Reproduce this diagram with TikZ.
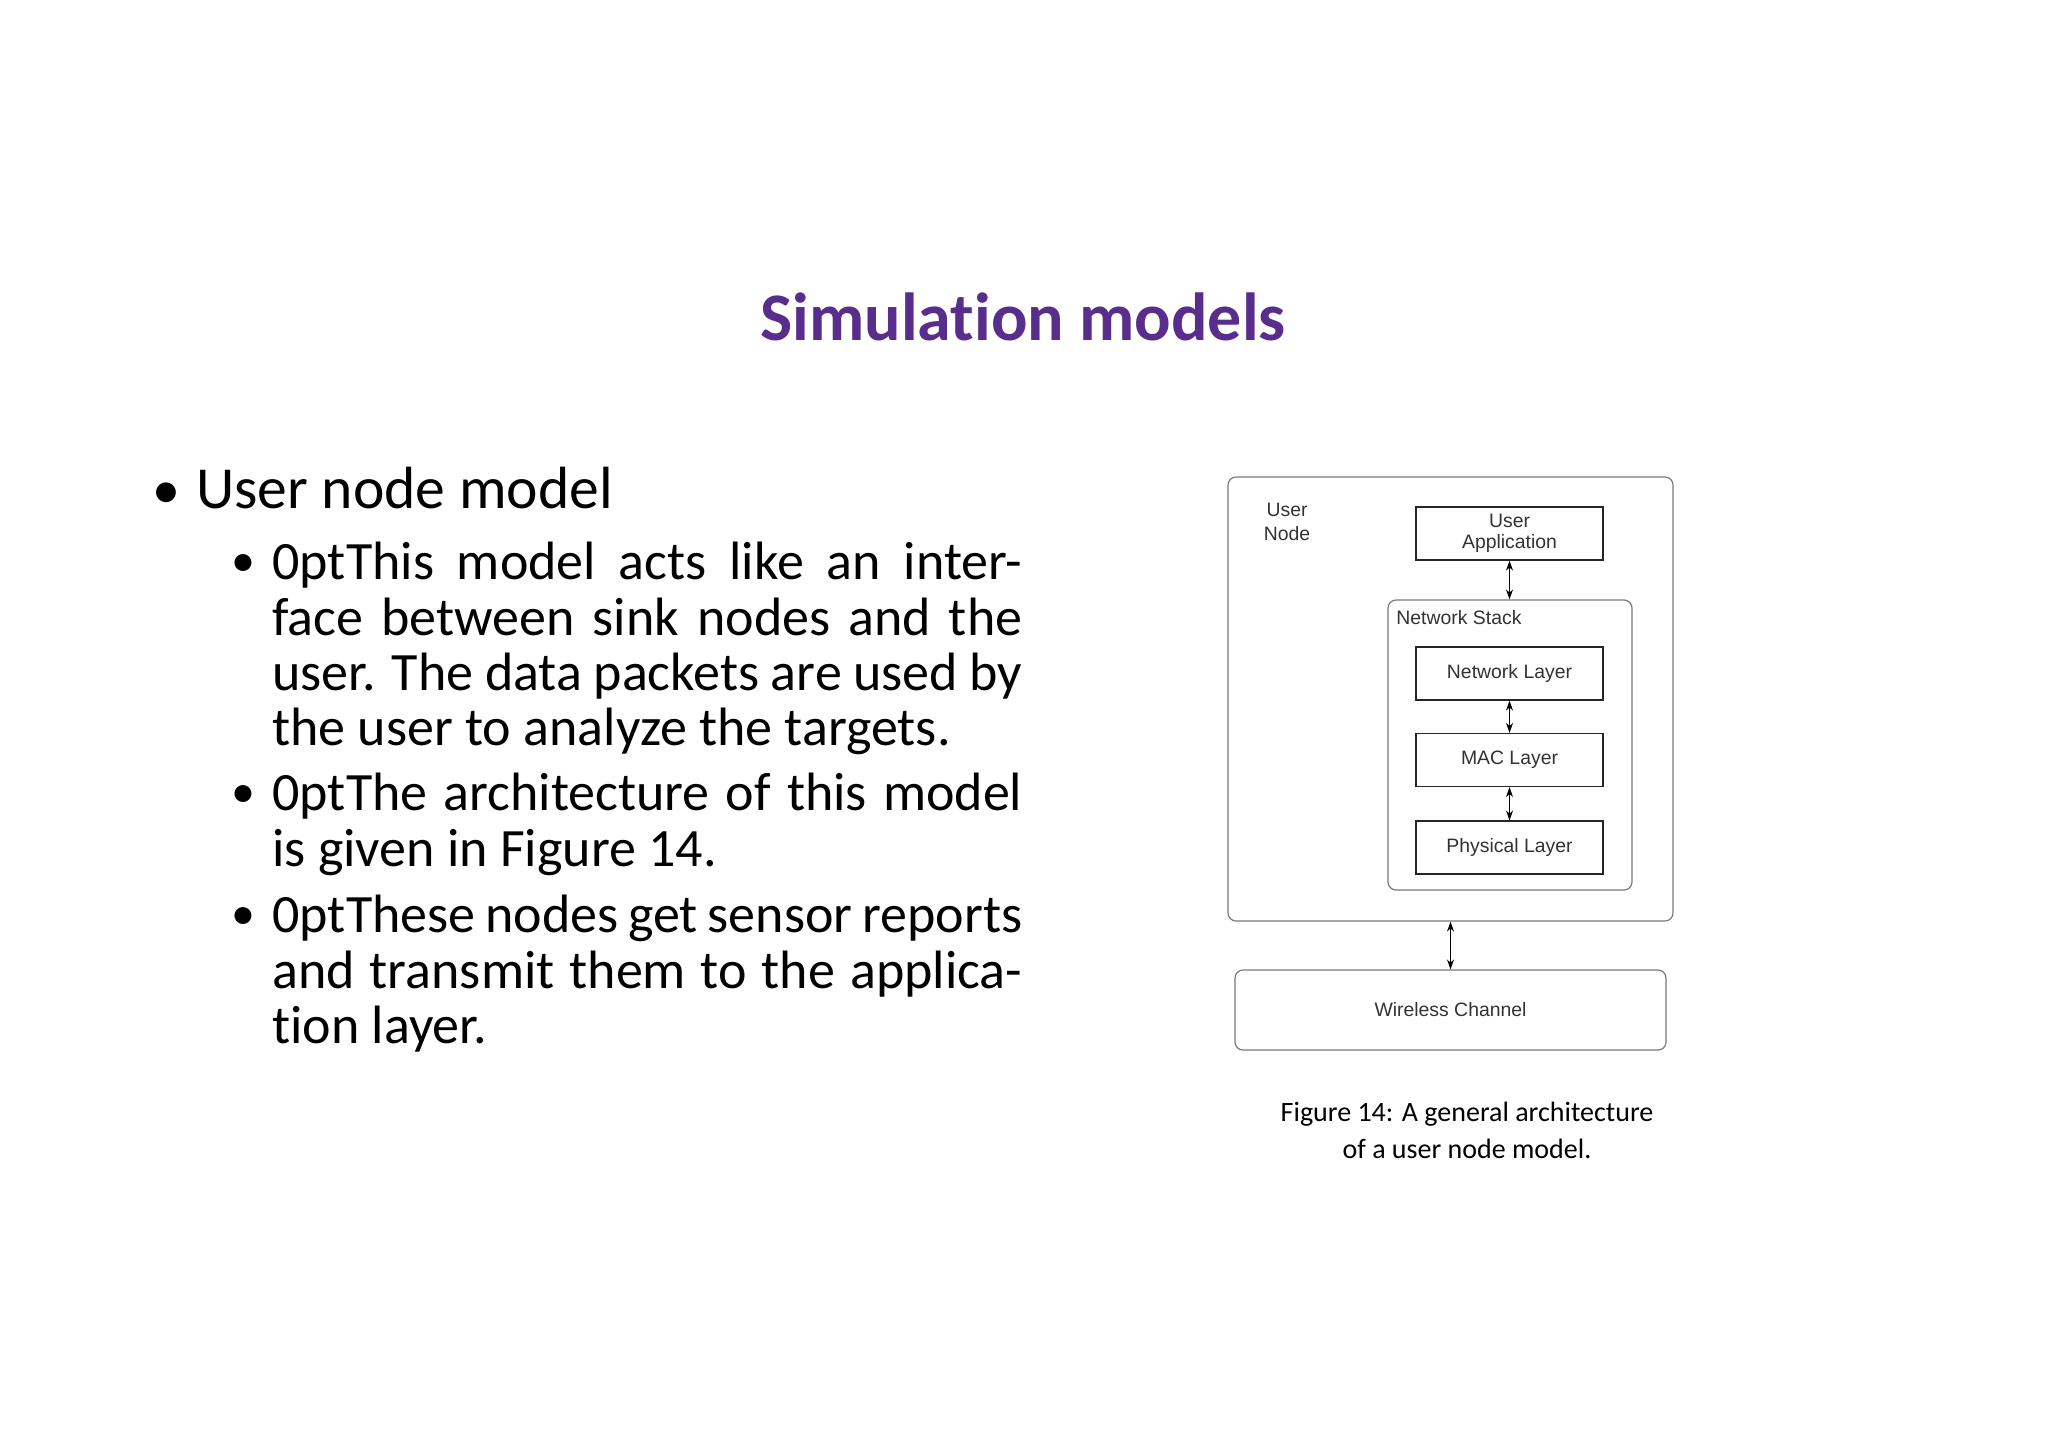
\documentclass[tikz,border=0pt]{standalone}
\usepackage{fontspec}
\setmainfont[Ligatures=NoCommon]{Carlito}
\newfontfamily\diagfont{Liberation Sans}
\usetikzlibrary{arrows.meta}
\definecolor{titlepurple}{RGB}{88,45,140}
\definecolor{boxgray}{RGB}{120,120,120}
\definecolor{dtext}{RGB}{50,50,50}
\begin{document}
\begin{tikzpicture}[x=0.5pt,y=-0.5pt,
  sq/.style={draw=black!85,line width=0.6pt,font=\diagfont\fontsize{9.7}{10.5}\selectfont,text=dtext,minimum width=93.5pt,minimum height=26.5pt,inner sep=0pt,align=center},
  rbox/.style={draw=boxgray,line width=0.6pt,rounded corners=4pt,inner sep=0pt},
  dar/.style={{Stealth[length=5pt,width=3.5pt]}-{Stealth[length=5pt,width=3.5pt]},line width=0.6pt},
  bodytxt/.style={anchor=north west,inner sep=0pt,text width=375pt,align=justify,font=\fontsize{27}{27.6}\selectfont\hyphenpenalty=10000 },
  bul/.style={anchor=base,inner sep=0pt,font=\fontsize{24}{27}\selectfont}]
\useasboundingbox (0,0) rectangle (2048,1447);
\node[font=\bfseries\fontsize{34}{38}\selectfont,text=titlepurple] (title) at (1023,317) {Simulation models};
\node[anchor=base west,inner sep=0pt,font=\fontsize{29.8}{32}\selectfont] (b1) at (196,508) {User node model};
\node[bul,font=\fontsize{28}{30}\selectfont] (bul0) at (166,508) {\textbullet};
\node[bodytxt] (p1) at (272,542) {This model acts like an interface between sink nodes and the user. The data packets are used by the user to analyze the targets.};
\node[bodytxt] (p2) at (272,773) {The architecture of this model is given in Figure 14.};
\node[bodytxt] (p3) at (272,895) {These nodes get sensor reports and transmit them to the application layer.};
\node[bul] (bula) at (243,576) {\textbullet};
\node[bul] (bulb) at (243,807) {\textbullet};
\node[bul] (bulc) at (243,929) {\textbullet};
% diagram
\node[rbox,minimum width=222.5pt,minimum height=222pt] (outer) at (1450.5,699) {};
\node[font=\diagfont\fontsize{9.7}{12}\selectfont,text=dtext,align=center] (un) at (1287,522) {User\\Node};
\node[sq] (ua) at (1509.5,533.5) {User\\Application};
\node[rbox,minimum width=122pt,minimum height=145pt] (ns) at (1510,745) {};
\node[anchor=west,inner sep=0pt,font=\diagfont\fontsize{9.7}{11}\selectfont,text=dtext] (nsl) at (1396,618) {Network Stack};
\node[sq] (nl) at (1509.5,673.5) {Network Layer};
\node[sq] (mac) at (1509.5,760) {MAC Layer};
\node[sq] (phy) at (1509.5,847.5) {Physical Layer};
\node[rbox,minimum width=215.5pt,minimum height=40pt,font=\diagfont\fontsize{9.7}{11}\selectfont,text=dtext] (wc) at (1450.5,1010) {Wireless Channel};
\draw[dar] (ua.south) -- (ua.south |- ns.north);
\draw[dar] (nl) -- (mac);
\draw[dar] (mac) -- (phy);
\draw[dar] (outer.south) -- (wc.north);
\node[align=center,font=\fontsize{14}{18.5}\selectfont] (cap) at (1467,1130) {Figure 14: A general architecture\\of a user node model.};
\end{tikzpicture}
\end{document}
